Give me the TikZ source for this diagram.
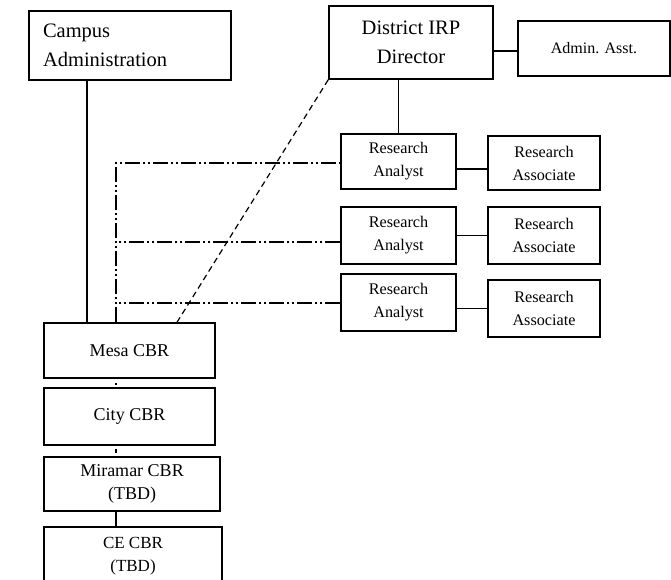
\documentclass[tikz,border=0pt]{standalone}
\usepackage{fontspec}
\setmainfont{Liberation Serif}
\usetikzlibrary{calc}
\begin{document}
\begin{tikzpicture}[x=1pt,y=-1pt,
  box/.style={draw, line width=1.5pt, inner sep=0pt, align=center},
  link/.style={line width=1.5pt},
  dashdotdot/.style={line width=1.2pt, dash pattern=on 15pt off 3pt on 2pt off 3pt on 2pt off 3pt},
  dashline/.style={line width=1.2pt, dash pattern=on 6pt off 4pt},
  big/.style={font=\fontsize{20.5}{29}\selectfont},
  mid/.style={font=\fontsize{18}{22.5}\selectfont},
  small/.style={font=\fontsize{16.2}{23}\selectfont}]
\useasboundingbox (0,0) rectangle (671,579);
\clip (0,0) rectangle (671,579);

% top level
\node[box, big, align=left, text width=174pt, inner xsep=14pt, minimum height=69pt] (camp) at (130,45.5) {Campus\\Administration};
\node[box, big, minimum width=164pt, minimum height=73pt] (dir) at (411,42.5) {District IRP\\Director};
\node[box, small, font=\fontsize{16}{20}\selectfont, minimum width=152pt, minimum height=55pt] (asst) at (594,48.5) {Admin. Asst.};

% research staff
\node[box, small, minimum width=115pt, minimum height=55pt] (ra1) at (398.5,161.5) {Research\\Analyst};
\node[box, small, minimum width=115pt, minimum height=57pt] (ra2) at (398.5,235.5) {Research\\Analyst};
\node[box, small, minimum width=115pt, minimum height=57pt] (ra3) at (398.5,302.5) {Research\\Analyst};
\node[box, small, minimum width=112pt, minimum height=54pt] (as1) at (544,163) {Research\\Associate};
\node[box, small, minimum width=112pt, minimum height=57pt] (as2) at (544,235.5) {Research\\Associate};
\node[box, small, minimum width=112pt, minimum height=57pt] (as3) at (544,308.5) {Research\\Associate};

% campus research stack
\node[box, mid, minimum width=171pt, minimum height=55pt] (mesa) at (129.5,350.5) {Mesa CBR};
\node[box, mid, minimum width=171pt, minimum height=57pt] (city) at (129.5,416.5) {City CBR};
\node[box, mid, minimum width=176pt, minimum height=54pt] (mir) at (132,484) {Miramar CBR\\(TBD)};
\node[box, font=\fontsize{17}{23.5}\selectfont, minimum width=178pt, minimum height=58pt] (ce) at (133,556) {CE CBR\\(TBD)};

% solid reporting lines
\draw[link] ([yshift=-2.5pt]asst.west) coordinate (aw) -- (aw -| dir.east);
\draw[link] (ra1.north) -- (ra1.north |- dir.south);
\draw[link] ([yshift=-6pt]as1.west) coordinate (l1) -- (l1 -| ra1.east);
\draw[link] (as2.west) -- (as2.west -| ra2.east);
\draw[link] (as3.west) -- (as3.west -| ra3.east);
\draw[link] ([xshift=-43pt]camp.south) coordinate (cs) -- (cs |- mesa.north);

% dotted links between the campus offices
\coordinate (spine) at ([xshift=-13.5pt]mesa.north);
\draw[line width=1.2pt, dash pattern=on 0pt off 4pt on 2pt off 10pt] (spine |- mesa.south) -- (spine |- city.north);
\draw[line width=1.2pt, dash pattern=on 0pt off 3.5pt on 4pt off 10pt] (spine |- city.south) -- (spine |- mir.north);
\draw[link] (spine |- mir.south) -- (spine |- ce.north);

% coordination lines to the analysts
\coordinate (hub) at ([yshift=-1.5pt]ra1.west);
\draw[dashdotdot] (spine) -- (spine |- hub) -- (hub);
\draw[dashdotdot] ([yshift=-6.5pt]ra2.west) coordinate (h2) -- (h2 -| spine);
\draw[dashdotdot] ([yshift=-0.5pt]ra3.west) coordinate (h3) -- (h3 -| spine);

% dashed link from the director
\draw[dashline] (dir.south west) -- ([xshift=47.5pt]mesa.north);
\end{tikzpicture}
\end{document}
